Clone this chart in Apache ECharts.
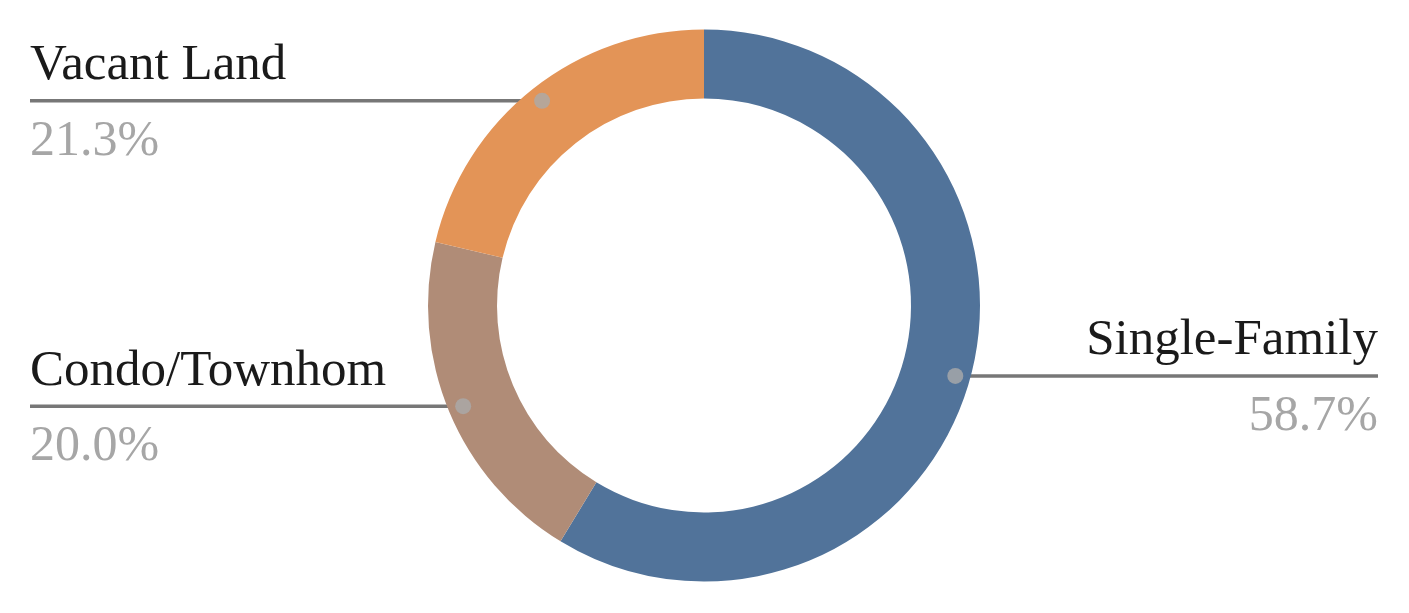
<!DOCTYPE html>
<html><head><meta charset="utf-8">
<script src="https://cdn.jsdelivr.net/npm/echarts@6/dist/echarts.min.js"></script>
<style>html,body{margin:0;padding:0;background:#fff}#c{width:1409px;height:613px}</style>
</head><body><div id="c"></div>
<script>
const categories = ['Single-Family', 'Condo/Townhom', 'Vacant Land'];
const values = [58.7, 20.0, 21.3];
const colors = ['#51739A', '#B08C77', '#E39457'];

const CX = 704, CY = 305.5, R0 = 207, R1 = 276, DOT_R = 261, EDGE = 30, W = 1409;
const NAME_LH = 82, PER_LH = 70, SHIFT = 6;
const FONT = "'Liberation Serif', 'Times New Roman', serif";

const total = values.reduce((a, b) => a + b, 0);
let acc = 0;
const mids = values.map(v => { const m = (acc + v / 2) / total * 100; acc += v; return m; });

const chart = echarts.init(document.getElementById('c'));
chart.setOption({
  animation: false,
  polar: { center: [CX, CY], radius: R1 },
  angleAxis: { type: 'value', min: 0, max: 100, startAngle: 90, clockwise: true,
    axisLine: { show: false }, axisTick: { show: false }, axisLabel: { show: false }, splitLine: { show: false } },
  radiusAxis: { type: 'value', min: 0, max: R1,
    axisLine: { show: false }, axisTick: { show: false }, axisLabel: { show: false }, splitLine: { show: false } },
  series: [
    {
      type: 'pie', center: [CX, CY], radius: [R0, R1], startAngle: 90, clockwise: true,
      emphasis: { disabled: true },
      data: categories.map((c, i) => ({ name: c, value: values[i], itemStyle: { color: colors[i] } })),
      label: {
        show: true, position: 'outside',
        formatter: p => '{name|' + p.name + '}\n{per|' + p.value.toFixed(1) + '%}',
        rich: {
          name: { fontSize: 51, color: '#1a1a1a', lineHeight: NAME_LH, fontFamily: FONT },
          per: { fontSize: 50, color: '#a6a6a6', lineHeight: PER_LH, fontFamily: FONT }
        }
      },
      labelLine: { show: true, length: 10, length2: 10, lineStyle: { color: '#777777', width: 3.5 } },
      labelLayout: function (p) {
        const pt = p.labelLinePoints[0];
        const k = DOT_R / R1;
        const dx = CX + (pt[0] - CX) * k, dy = CY + (pt[1] - CY) * k;
        const isLeft = dx < CX;
        const ex = isLeft ? EDGE : W - EDGE - 1;
        return {
          x: ex, y: dy - NAME_LH + SHIFT, align: isLeft ? 'left' : 'right', verticalAlign: 'top',
          labelLinePoints: [[dx, dy], [dx, dy], [ex, dy]]
        };
      }
    },
    {
      type: 'scatter', coordinateSystem: 'polar', z: 10, silent: true,
      data: mids.map(m => [DOT_R, m]), symbolSize: 16,
      itemStyle: { color: '#aaaaaa' }
    }
  ]
});
</script></body></html>
